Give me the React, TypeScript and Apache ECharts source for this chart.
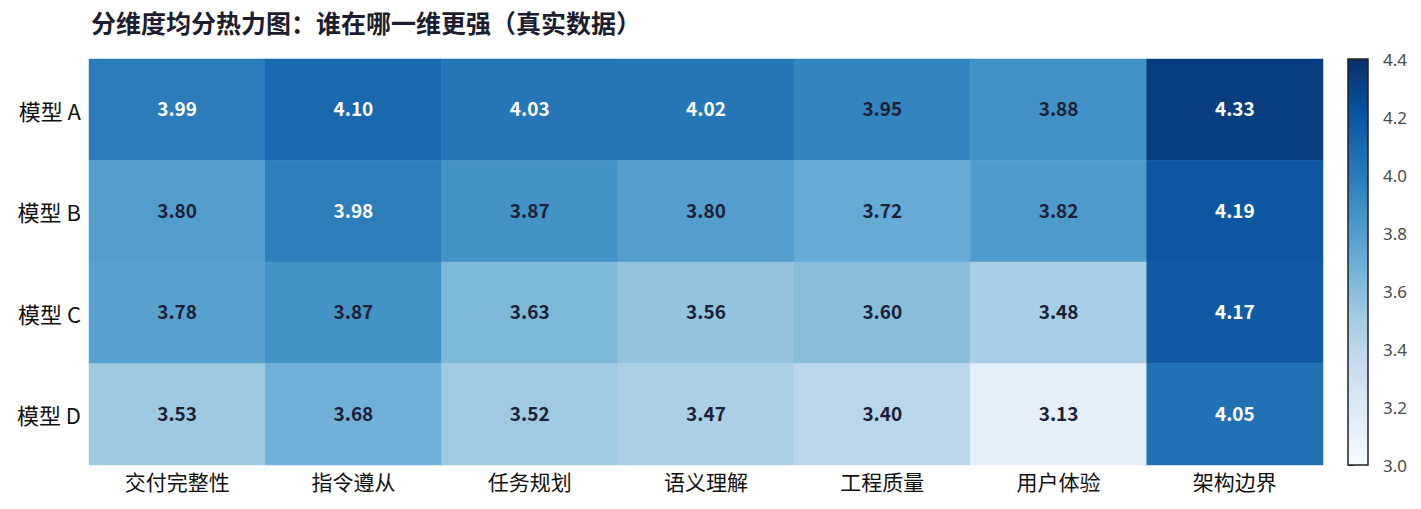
import React, { useEffect, useRef } from "react";
import * as echarts from "echarts";

const dimensions = ["交付完整性", "指令遵从", "任务规划", "语义理解", "工程质量", "用户体验", "架构边界"];
const models = ["模型 A", "模型 B", "模型 C", "模型 D"];
const scoresA = [3.99, 4.10, 4.03, 4.02, 3.95, 3.88, 4.33];
const scoresB = [3.80, 3.98, 3.87, 3.80, 3.72, 3.82, 4.19];
const scoresC = [3.78, 3.87, 3.63, 3.56, 3.60, 3.48, 4.17];
const scoresD = [3.53, 3.68, 3.52, 3.47, 3.40, 3.13, 4.05];
const allScores = [scoresA, scoresB, scoresC, scoresD];
const colorMin = 3.0;
const colorMax = 4.4;
const colorTickStep = 0.2;

const BLUES = ["#f7fbff", "#deebf7", "#c6dbef", "#9ecae1", "#6baed6", "#4292c6", "#2171b5", "#08519c", "#08306b"];
const FONT = "'Noto Sans CJK SC', 'Noto Sans', sans-serif";

export default function App() {
  const ref = useRef<HTMLDivElement>(null);
  useEffect(() => {
    if (!ref.current) return;
    const chart = echarts.init(ref.current, undefined, { renderer: "svg" });
    const data: any[] = [];
    allScores.forEach((row, r) => {
      row.forEach((v, c) => {
        data.push({
          value: [c, r, v],
          label: { color: v >= 3.97 ? "#ffffff" : "#1c1f36" },
        });
      });
    });
    const gridL = 89, gridT = 59, gridW = 1234, gridH = 406;
    const cbL = 1348, cbW = 20;
    chart.setOption({
      animation: false,
      textStyle: { fontFamily: FONT },
      title: {
        text: "分维度均分热力图：谁在哪一维更强（真实数据）",
        left: 86,
        top: 4,
        textStyle: { fontFamily: FONT, fontSize: 25, fontWeight: "bold", color: "#1c1d2e" },
      },
      grid: [
        { left: gridL, top: gridT, width: gridW, height: gridH },
        { left: cbL, top: gridT, width: cbW, height: gridH },
      ],
      xAxis: [
        {
          type: "category",
          gridIndex: 0,
          data: dimensions,
          axisLine: { show: false },
          axisTick: { show: false },
          axisLabel: { fontSize: 21, color: "#111111", margin: 5, fontFamily: FONT },
          splitArea: { show: false },
        },
        { type: "value", gridIndex: 1, show: false, min: 0, max: 1 },
      ],
      yAxis: [
        {
          type: "category",
          gridIndex: 0,
          data: models,
          inverse: true,
          axisLine: { show: false },
          axisTick: { show: false },
          axisLabel: { fontSize: 22, color: "#111111", margin: 8, fontFamily: FONT, padding: [0, 0, 3, 0] },
        },
        {
          type: "value",
          gridIndex: 1,
          position: "right",
          min: colorMin,
          max: colorMax,
          interval: colorTickStep,
          axisLine: { show: false },
          axisTick: { show: true, length: 6, lineStyle: { color: "#555" } },
          splitLine: { show: false },
          axisLabel: {
            fontSize: 17,
            color: "#4a4a4a",
            margin: 15,
            fontFamily: "'Noto Sans', sans-serif",
            formatter: (v: number) => v.toFixed(1),
          },
        },
      ],
      visualMap: {
        show: false,
        min: colorMin,
        max: colorMax,
        dimension: 2,
        seriesIndex: 0,
        inRange: { color: BLUES },
      },
      graphic: [
        {
          type: "rect",
          shape: { x: cbL, y: gridT, width: cbW, height: gridH },
          style: {
            fill: new echarts.graphic.LinearGradient(0, 1, 0, 0,
              BLUES.map((c, i) => ({ offset: i / (BLUES.length - 1), color: c }))),
            stroke: "#222222",
            lineWidth: 1.5,
          },
          z: 10,
        },
      ],
      series: [
        {
          type: "heatmap",
          xAxisIndex: 0,
          yAxisIndex: 0,
          data,
          label: {
            show: true,
            fontSize: 19,
            fontWeight: "bold",
            fontFamily: FONT,
            offset: [0, -2],
            formatter: (p: any) => p.value[2].toFixed(2),
          },
          itemStyle: { borderWidth: 0 },
          emphasis: { disabled: true },
        },
      ],
    });
    return () => chart.dispose();
  }, []);
  return (
    <div
      ref={ref}
      style={{ position: "fixed", left: 0, top: 0, width: 1421, height: 509, background: "#fff" }}
    />
  );
}
